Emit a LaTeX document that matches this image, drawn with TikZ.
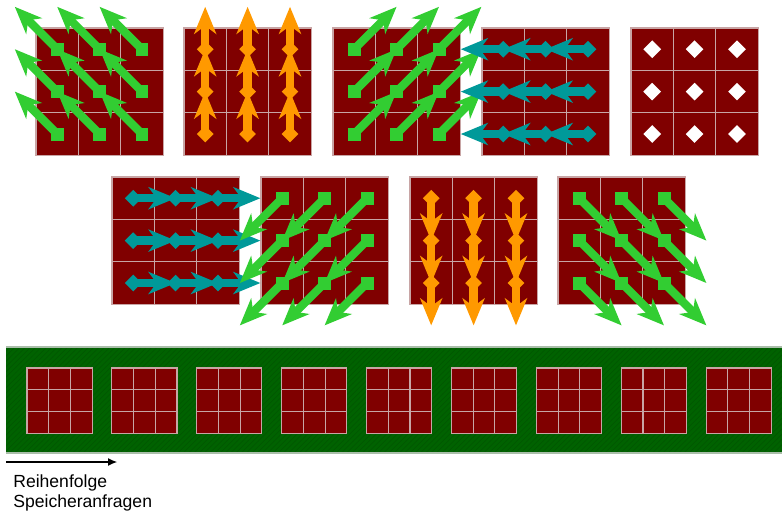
\documentclass[tikz,border=0pt]{standalone}
\usepackage{fontspec}
\setmainfont{Liberation Sans}
\usetikzlibrary{calc,arrows.meta,patterns,shapes.geometric}
\definecolor{cellred}{RGB}{128,0,0}
\definecolor{cellline}{RGB}{200,165,165}
\definecolor{limegr}{RGB}{50,205,50}
\definecolor{orng}{RGB}{255,153,0}
\definecolor{tealb}{RGB}{0,153,153}
\definecolor{stripgr}{RGB}{0,98,0}
\definecolor{hatchgr}{RGB}{0,88,0}
\definecolor{stripedge}{RGB}{170,190,170}

\tikzset{
  cellbox/.style={fill=cellred, draw=cellline, line width=0.6pt},
  flow/.style={line width=0.165cm, -{Stealth[length=0.54cm,width=0.44cm,inset=0.16cm]}},
  sqtail/.style={rectangle, minimum size=0.26cm, inner sep=0pt, fill=#1},
  dmtail/.style={diamond, minimum size=0.34cm, inner sep=0pt, fill=#1},
  dot/.style={diamond, minimum size=0.36cm, inner sep=0pt, fill=white}
}

% 3x3 grid: name, left, top, cell size
\newcommand{\cellgrid}[4]{%
  \foreach \r in {1,2,3} \foreach \c in {1,2,3} {
    \draw[cellbox] ({#2+(\c-1)*#4},{#3+(\r-1)*#4}) rectangle ++(#4,#4);
    \coordinate (#1-\r-\c) at ({#2+(\c-0.5)*#4},{#3+(\r-0.5)*#4});
  }}

\begin{document}
\begin{tikzpicture}[x=0.02cm, y=-0.02cm]
\useasboundingbox (0,0) rectangle (782,515);

% strip of memory requests
\path[fill=stripgr] (6,347) rectangle (782,453);
\path[pattern=north east lines, pattern color=hatchgr] (6,347) rectangle (782,453);
\draw[stripedge, line width=0.6pt] (6,347) -- (782,347) (6,453) -- (782,453);
\foreach \k in {1,...,9}
  \cellgrid{s\k}{27+84.9*(\k-1)}{368}{21.7};

% big grids
\cellgrid{g1}{36}{28}{42.4}
\cellgrid{g2}{184}{28}{42.4}
\cellgrid{g3}{333}{28}{42.4}
\cellgrid{g4}{482}{28}{42.4}
\cellgrid{g5}{631}{28}{42.4}
\cellgrid{g6}{112}{177}{42.4}
\cellgrid{g7}{261}{177}{42.4}
\cellgrid{g8}{410}{177}{42.4}
\cellgrid{g9}{558}{177}{42.4}

\foreach \r in {1,2,3} \foreach \c in {1,2,3} {
  \draw[flow, limegr] (g1-\r-\c) -- ($(g1-\r-\c)+(-42.4,-42.4)$);
  \node[sqtail=limegr] (ta-\r-\c) at (g1-\r-\c) {};
  \draw[flow, orng] (g2-\r-\c) -- ($(g2-\r-\c)+(0,-42.4)$);
  \node[dmtail=orng] (tb-\r-\c) at (g2-\r-\c) {};
  \draw[flow, limegr] (g3-\r-\c) -- ($(g3-\r-\c)+(42.4,-42.4)$);
  \node[sqtail=limegr] (tc-\r-\c) at (g3-\r-\c) {};
  \node[dot] (td-\r-\c) at (g5-\r-\c) {};
}
\foreach \r in {1,2,3} \foreach \c in {1,2,3} {
  \draw[flow, tealb] (g4-\r-\c) -- ($(g4-\r-\c)+(-42.4,0)$);
  \node[dmtail=tealb] (te-\r-\c) at (g4-\r-\c) {};
  \draw[flow, tealb] (g6-\r-\c) -- ($(g6-\r-\c)+(42.4,0)$);
  \node[dmtail=tealb] (tf-\r-\c) at (g6-\r-\c) {};
}
\foreach \r in {1,2,3} \foreach \c in {1,2,3} {
  \draw[flow, limegr] (g7-\r-\c) -- ($(g7-\r-\c)+(-42.4,42.4)$);
  \node[sqtail=limegr] (tg-\r-\c) at (g7-\r-\c) {};
  \draw[flow, orng] (g8-\r-\c) -- ($(g8-\r-\c)+(0,42.4)$);
  \node[dmtail=orng] (th-\r-\c) at (g8-\r-\c) {};
  \draw[flow, limegr] (g9-\r-\c) -- ($(g9-\r-\c)+(42.4,42.4)$);
  \node[sqtail=limegr] (ti-\r-\c) at (g9-\r-\c) {};
}

% order of requests
\coordinate (ordfrom) at (6,462);
\coordinate (ordto) at (117,462);
\draw[line width=0.6pt, -{Latex[length=0.18cm,width=0.16cm]}] (ordfrom) -- (ordto);
\node[anchor=base west, inner sep=0pt, font=\fontsize{10}{12}\selectfont] (ordtext) at (13,487) {Reihenfolge};
\node[anchor=base west, inner sep=0pt, font=\fontsize{10}{12}\selectfont] (reqtext) at (13,507) {Speicheranfragen};
\end{tikzpicture}
\end{document}
